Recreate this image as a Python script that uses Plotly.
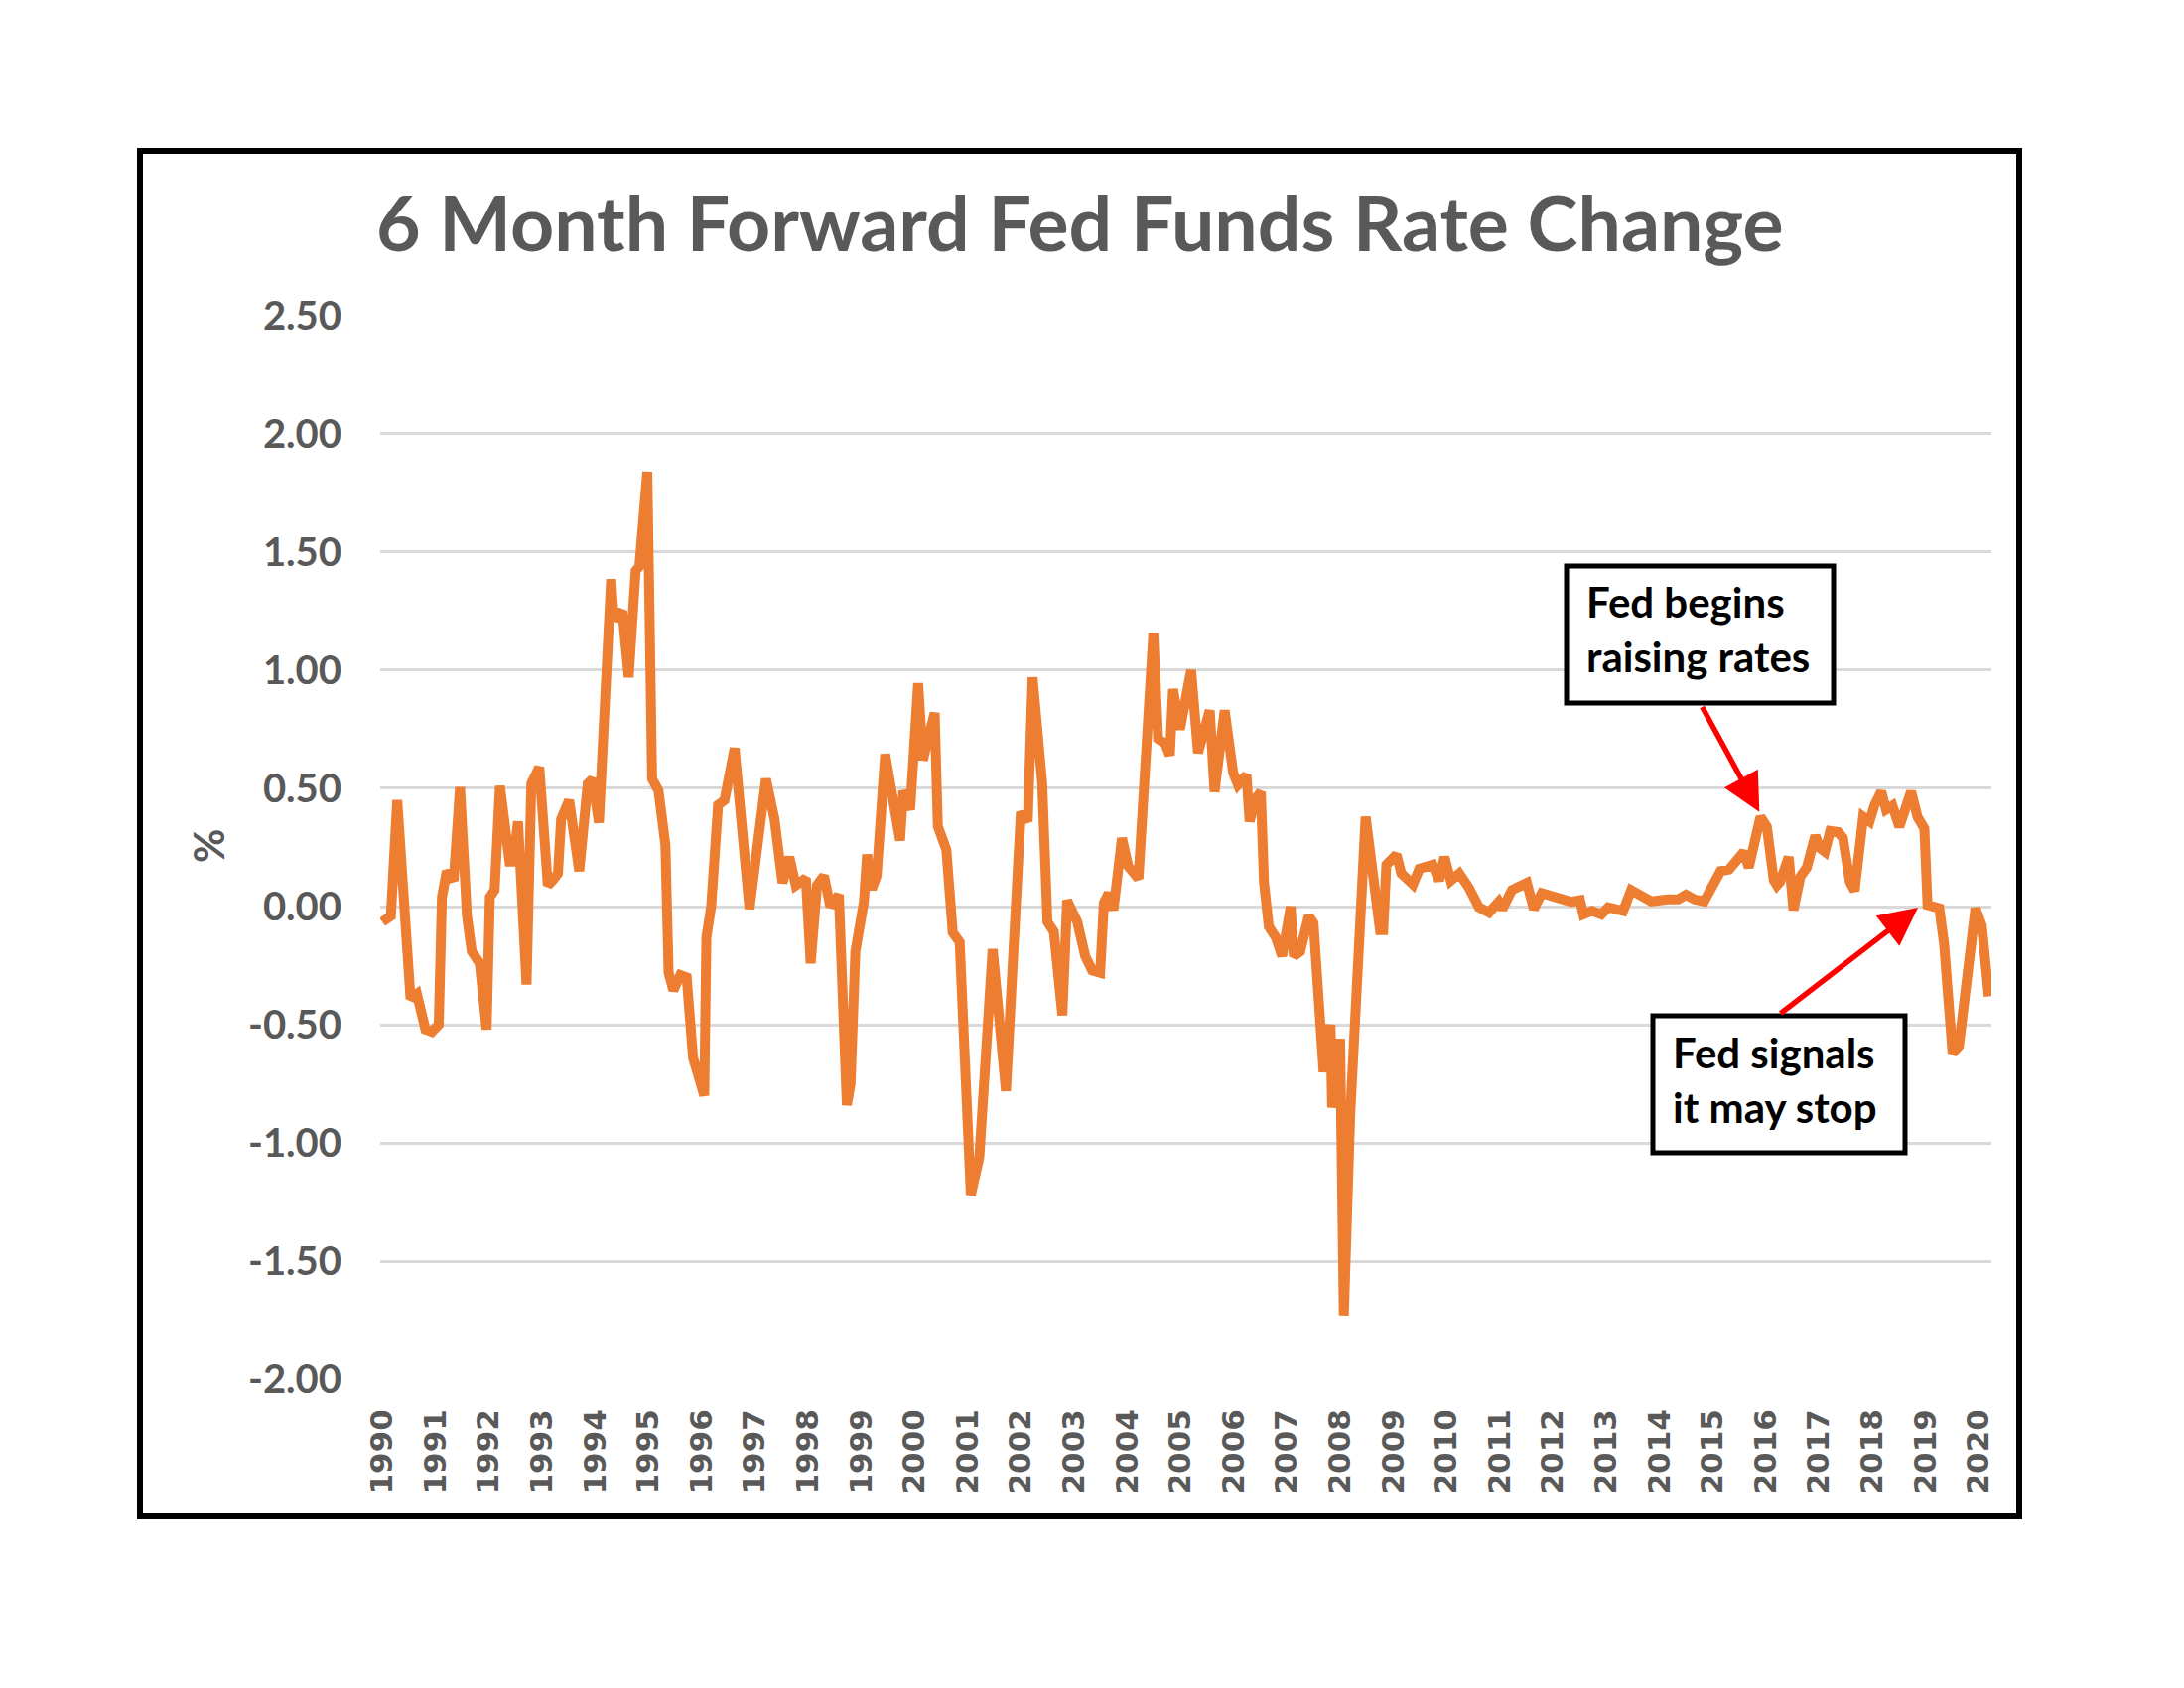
import plotly.graph_objects as go

# ---- data (decimal year, % change) ----
years = [1990.00,1990.16,1990.28,1990.37,1990.50,1990.53,1990.65,1990.81,1990.93,1991.06,1991.12,1991.21,1991.34,1991.46,1991.59,1991.68,1991.83,1991.96,
1992.02,1992.11,1992.21,1992.39,1992.46,1992.55,1992.71,1992.80,1992.95,1993.11,1993.20,1993.30,1993.36,1993.51,1993.70,1993.86,1993.95,
1994.07,1994.30,1994.35,1994.51,1994.63,1994.76,1994.83,1994.98,1995.07,1995.19,1995.32,1995.38,1995.47,1995.60,1995.72,1995.84,
1996.05,1996.09,1996.18,1996.31,1996.43,1996.62,1996.90,1997.21,1997.37,1997.52,1997.65,1997.77,1997.96,1998.05,1998.17,1998.30,1998.42,
1998.58,1998.73,1998.80,1998.89,1999.05,1999.11,1999.20,1999.29,1999.45,1999.73,1999.79,1999.92,2000.07,2000.16,2000.38,2000.44,
2000.60,2000.72,2000.85,2001.06,2001.22,2001.47,2001.72,2002.00,2002.13,2002.22,2002.40,2002.50,2002.62,2002.78,2002.87,2003.06,
2003.21,2003.34,2003.49,2003.56,2003.65,2003.74,2003.90,2004.02,2004.21,2004.49,2004.58,2004.71,2004.80,2004.86,2004.99,2005.20,
2005.33,2005.55,2005.64,2005.83,2005.99,2006.08,2006.24,2006.30,2006.42,2006.51,2006.57,2006.66,2006.79,2006.91,2007.07,2007.13,
2007.25,2007.41,2007.50,2007.66,2007.69,2007.82,2007.85,2008.00,2008.07,2008.19,2008.48,2008.75,2008.81,2008.87,2009.06,2009.15,
2009.37,2009.49,2009.74,2009.86,2009.96,2010.08,2010.24,2010.42,2010.61,2010.80,2010.98,2011.05,2011.23,2011.51,2011.64,2011.79,
2012.10,2012.35,2012.51,2012.57,2012.73,2012.91,2013.04,2013.32,2013.47,2013.60,2013.85,2014.16,2014.35,2014.50,2014.66,2014.84,
2015.03,2015.15,2015.31,2015.43,2015.59,2015.68,2015.77,2015.90,2016.02,2016.15,2016.21,2016.27,2016.43,2016.52,2016.65,2016.77,
2016.93,2017.02,2017.11,2017.21,2017.36,2017.45,2017.58,2017.67,2017.83,2017.95,2018.04,2018.17,2018.26,2018.38,2018.51,2018.63,
2018.73,2018.85,2018.98,2019.04,2019.16,2019.26,2019.35,2019.51,2019.63,2019.76,2019.94,2020.06,2020.19]

values = [-0.065,-0.04,0.45,0.11,-0.32,-0.39,-0.37,-0.52,-0.53,-0.50,0.04,0.15,0.11,0.505,-0.04,-0.19,-0.24,-0.52,
0.04,0.07,0.51,0.19,0.19,0.36,-0.33,0.52,0.59,0.09,0.11,0.14,0.37,0.45,0.15,0.52,0.54,
0.355,1.385,1.216,1.25,0.97,1.42,1.44,1.84,0.54,0.49,0.26,-0.28,-0.355,-0.29,-0.30,-0.64,
-0.80,-0.13,0.0,0.43,0.45,0.67,-0.01,0.54,0.37,0.10,0.21,0.09,0.12,-0.24,0.09,0.13,0.0,
0.05,-0.84,-0.75,-0.19,0.02,0.22,0.075,0.13,0.645,0.28,0.49,0.41,0.945,0.62,0.82,0.34,
0.24,-0.11,-0.15,-1.22,-1.06,-0.18,-0.78,0.40,0.36,0.97,0.525,-0.065,-0.106,-0.46,0.026,-0.065,
-0.21,-0.27,-0.28,0.016,0.057,-0.014,0.29,0.17,0.118,1.157,0.71,0.69,0.64,0.92,0.75,1.00,
0.65,0.83,0.485,0.83,0.566,0.515,0.556,0.36,0.46,0.485,0.10,-0.085,-0.13,-0.21,0.0,-0.21,
-0.19,-0.04,-0.07,-0.67,-0.70,-0.50,-0.85,-0.56,-1.73,-0.88,0.38,-0.10,-0.10,0.177,0.22,0.14,
0.094,0.16,0.177,0.11,0.21,0.11,0.14,0.08,-0.003,-0.025,0.02,-0.01,0.07,0.10,-0.01,0.057,
0.042,0.02,0.027,-0.033,-0.018,-0.033,-0.003,-0.018,0.07,0.05,0.022,0.03,0.03,0.05,0.03,0.022,
0.097,0.15,0.157,0.195,0.232,0.165,0.277,0.38,0.337,0.112,0.09,0.105,0.21,-0.015,0.127,0.165,
0.30,0.247,0.232,0.32,0.315,0.29,0.105,0.067,0.38,0.36,0.427,0.487,0.41,0.427,0.337,0.41,
0.487,0.38,0.33,0.007,-0.007,-0.007,-0.157,-0.62,-0.59,-0.307,-0.007,-0.08,-0.38]

x_tick_vals = list(range(1990, 2021))
x_tick_text = [str(y) for y in x_tick_vals]
y_tick_vals = [2.5, 2.0, 1.5, 1.0, 0.5, 0.0, -0.5, -1.0, -1.5, -2.0]
y_tick_text = ["2.50", "2.00", "1.50", "1.00", "0.50", "0.00", "-0.50", "-1.00", "-1.50", "-2.00"]

title_text = "6 Month Forward Fed Funds Rate Change"
note1 = "Fed begins<br>raising rates"
note2 = "Fed signals<br>it may stop"
arrow1 = dict(tail=(2014.79, 0.851), tip=(2015.88, 0.40))
arrow2 = dict(tail=(2016.25, -0.457), tip=(2018.86, -0.004))

# ---- layout geometry (pixels) ----
W, H = 2200, 1700
L, R, T, B = 383, 2006, 317, 1390
pw, ph = R - L, B - T

def px(xp):
    return (xp - L) / pw

def py(yp):
    return (B - yp) / ph

GREY = "#595959"
FONT = "Lato"

fig = go.Figure()
fig.add_trace(go.Scatter(x=years, y=values, mode="lines",
                         line=dict(color="#ED7D31", width=10),
                         hoverinfo="skip", showlegend=False))

fig.update_layout(
    width=W, height=H,
    margin=dict(l=L, r=W - R, t=T, b=H - B, pad=0),
    paper_bgcolor="white", plot_bgcolor="white",
    showlegend=False,
    xaxis=dict(range=[1989.96, 2020.24], tickmode="array", tickvals=x_tick_vals,
               ticktext=x_tick_text, tickangle=-90, showgrid=False, zeroline=False,
               showline=False, ticks="", ticklabelstandoff=22,
               tickfont=dict(family="DejaVu Sans", size=31, color=GREY, weight="bold")),
    yaxis=dict(range=[-2.004, 2.504], tickmode="array", tickvals=y_tick_vals,
               ticktext=y_tick_text, showgrid=True, gridcolor="#D9D9D9", gridwidth=3,
               zeroline=False, showline=False, ticks="", ticklabelstandoff=38,
               tickfont=dict(family=FONT, size=40, color=GREY, weight="bold")),
)

# outer frame
fig.add_shape(type="rect", xref="paper", yref="paper",
              x0=px(141), x1=px(2034), y0=py(1527), y1=py(152),
              line=dict(color="black", width=6), fillcolor="rgba(0,0,0,0)", layer="above")

# title
fig.add_annotation(text=title_text, xref="paper", yref="paper", x=px(377), y=py(223),
                   xanchor="left", yanchor="middle", showarrow=False,
                   font=dict(family=FONT, size=77, color=GREY, weight="bold"))

# y axis title
fig.add_annotation(text="%", xref="paper", yref="paper", x=px(210), y=py(852),
                   xanchor="center", yanchor="middle", showarrow=False, textangle=-90,
                   font=dict(family=FONT, size=42, color=GREY, weight="bold"))

# arrows
for a in (arrow1, arrow2):
    fig.add_annotation(x=a["tip"][0], y=a["tip"][1], ax=a["tail"][0], ay=a["tail"][1],
                       xref="x", yref="y", axref="x", ayref="y", text="",
                       showarrow=True, arrowhead=2, arrowsize=1.4, arrowwidth=5.5,
                       arrowcolor="#FF0000")

# text boxes: white box with black border, then left-aligned text
def box(text, x0, y0, x1, y1, tx, ty):
    fig.add_shape(type="rect", xref="paper", yref="paper",
                  x0=px(x0), x1=px(x1), y0=py(y1), y1=py(y0),
                  line=dict(color="black", width=5), fillcolor="white", layer="above")
    fig.add_annotation(text=text, xref="paper", yref="paper", x=px(tx), y=py(ty),
                       xanchor="left", yanchor="middle", showarrow=False, align="left",
                       font=dict(family=FONT, size=42, color="black", weight="bold"))

box(note1, 1578, 570, 1847, 708, 1596, 633)
box(note2, 1665, 1023, 1919, 1161, 1683, 1087)

fig.write_html("out.html")
